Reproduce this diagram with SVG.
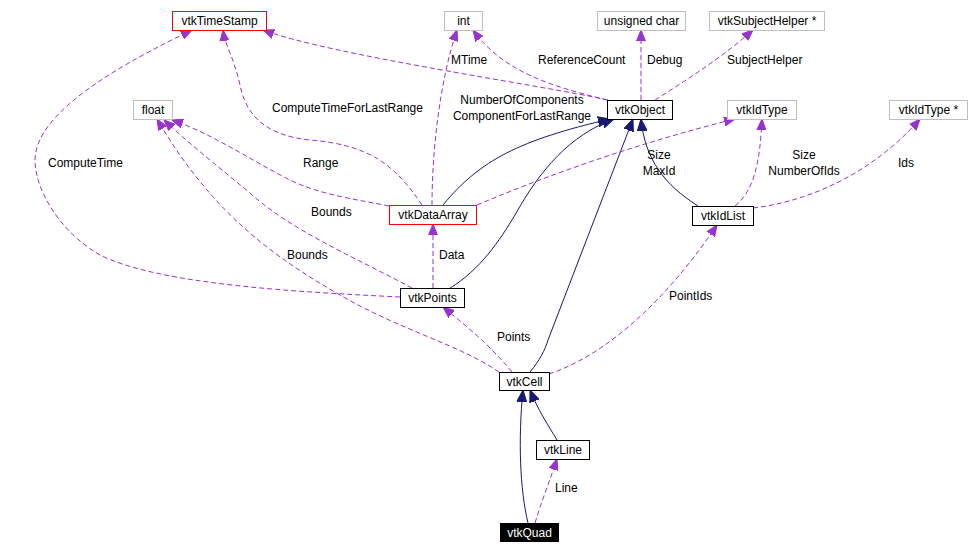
<svg xmlns="http://www.w3.org/2000/svg" width="969" height="554" viewBox="0 0 969 554">
<defs>
<style>
text{font-family:"Liberation Sans",Arial,sans-serif;font-size:12px;fill:#000}
.n{fill:#fff;stroke:#000;stroke-width:1}
.g{fill:#fff;stroke:#bfbfbf;stroke-width:1}
.r{fill:#fff;stroke:#ff0000;stroke-width:1}
.nt{text-anchor:middle}
.u{fill:none;stroke:#9a32cd;stroke-width:1;stroke-dasharray:5,3;marker-end:url(#ap)}
.i{fill:none;stroke:#191970;stroke-width:1;marker-end:url(#ab)}
</style>
<marker id="ap" markerUnits="userSpaceOnUse" markerWidth="12" markerHeight="10" refX="11" refY="4.5" orient="auto" viewBox="0 0 12 9">
<path d="M0,0 L11,4.5 L0,9 z" fill="#9a32cd" stroke="#9a32cd"/>
</marker>
<marker id="ab" markerUnits="userSpaceOnUse" markerWidth="13" markerHeight="11" refX="12" refY="5" orient="auto" viewBox="0 0 13 10">
<path d="M0,0 L12,5 L0,10 z" fill="#191970" stroke="#191970"/>
</marker>
</defs>
<rect width="969" height="554" fill="#fff"/>
<g id="connectors">
<path class="u" d="M608,100 C540,85 330,55 263,30"/>
<path class="u" d="M607,100 C560,88 505,75 473,30"/>
<path class="u" d="M641,100 L641,30"/>
<path class="u" d="M655,100 C690,78 725,55 753,30"/>
<path class="i" d="M443,205 C480,160 520,140 610,119"/>
<path class="i" d="M450,288 C480,270 500,240 515,215 C540,170 570,135 614,119"/>
<path class="i" d="M530,372 C540,360 545,350 548,340 L633,119"/>
<path class="i" d="M698,206 C665,185 645,160 641,119"/>
<path class="u" d="M477,205 C560,170 650,140 735,119"/>
<path class="u" d="M735,206 C755,190 760,160 762,119"/>
<path class="u" d="M753,208 C820,200 880,165 920,119"/>
<path class="u" d="M422,205 C395,165 370,145 310,140 C260,135 245,110 240,85 C233,55 225,45 223,30"/>
<path class="u" d="M432,205 C432,150 440,80 457,30"/>
<path class="u" d="M389,206 C360,200 320,195 290,180 C250,160 215,135 172,120"/>
<path class="u" d="M412,288 C360,260 290,230 250,193 C210,160 185,140 164,120"/>
<path class="u" d="M499,372 C460,345 400,330 340,295 C270,255 210,210 157,119"/>
<path class="u" d="M400,297 C300,292 160,285 100,255 C60,232 35,190 35,160 C35,110 130,60 192,30"/>
<path class="u" d="M433,288 L433,224"/>
<path class="u" d="M512,372 C490,345 465,325 443,307"/>
<path class="u" d="M549,374 C620,350 680,280 717,225"/>
<path class="i" d="M528,523 C520,490 518,440 523,390"/>
<path class="i" d="M557,440 C548,425 538,410 530,390"/>
<path class="u" d="M535,523 C542,500 550,480 557,459"/>
</g>
<g id="labels">
<text x="451" y="64">MTime</text>
<text x="538" y="64">ReferenceCount</text>
<text x="647" y="64">Debug</text>
<text x="727" y="64">SubjectHelper</text>
<text x="272" y="112">ComputeTimeForLastRange</text>
<text x="522" y="104" class="nt">NumberOfComponents</text>
<text x="522" y="120" class="nt">ComponentForLastRange</text>
<text x="303" y="167">Range</text>
<text x="48" y="167">ComputeTime</text>
<text x="311" y="216">Bounds</text>
<text x="287" y="259">Bounds</text>
<text x="439" y="259">Data</text>
<text x="659" y="159" class="nt">Size</text>
<text x="659" y="175" class="nt">MaxId</text>
<text x="804" y="159" class="nt">Size</text>
<text x="804" y="175" class="nt">NumberOfIds</text>
<text x="898" y="167">Ids</text>
<text x="497" y="341">Points</text>
<text x="669" y="300">PointIds</text>
<text x="555" y="492">Line</text>
</g>
<g id="vtkTimeStamp"><rect class="r" x="172.5" y="11.5" width="94" height="19"/><text class="nt" x="219.5" y="25">vtkTimeStamp</text></g>
<g id="int"><rect class="g" x="444.5" y="11.5" width="38" height="19"/><text class="nt" x="463.5" y="25">int</text></g>
<g id="unsigned_char"><rect class="g" x="597.5" y="11.5" width="88" height="19"/><text class="nt" x="641.5" y="25">unsigned char</text></g>
<g id="vtkSubjectHelper"><rect class="g" x="709.5" y="11.5" width="115" height="19"/><text class="nt" x="767" y="25">vtkSubjectHelper *</text></g>
<g id="float"><rect class="g" x="133.5" y="100.5" width="39" height="19"/><text class="nt" x="153" y="114">float</text></g>
<g id="vtkObject"><rect class="n" x="607.5" y="100.5" width="65" height="19"/><text class="nt" x="640" y="114">vtkObject</text></g>
<g id="vtkIdType"><rect class="g" x="727.5" y="100.5" width="69" height="19"/><text class="nt" x="762" y="114">vtkIdType</text></g>
<g id="vtkIdTypePtr"><rect class="g" x="889.5" y="100.5" width="78" height="19"/><text class="nt" x="928.5" y="114">vtkIdType *</text></g>
<g id="vtkIdList"><rect class="n" x="692.5" y="206.5" width="61" height="19"/><text class="nt" x="723" y="220">vtkIdList</text></g>
<g id="vtkDataArray"><rect class="r" x="389.5" y="205.5" width="87" height="19"/><text class="nt" x="433" y="219">vtkDataArray</text></g>
<g id="vtkPoints"><rect class="n" x="400.5" y="288.5" width="64" height="19"/><text class="nt" x="432.5" y="302">vtkPoints</text></g>
<g id="vtkCell"><rect class="n" x="499.5" y="372.5" width="50" height="18"/><text class="nt" x="524.5" y="386">vtkCell</text></g>
<g id="vtkLine"><rect class="n" x="536.5" y="440.5" width="53" height="19"/><text class="nt" x="563" y="454">vtkLine</text></g>
<g id="vtkQuad"><rect x="500" y="523" width="59" height="19" fill="#000"/><text class="nt" x="529.5" y="537" style="fill:#fff">vtkQuad</text></g>
</svg>
